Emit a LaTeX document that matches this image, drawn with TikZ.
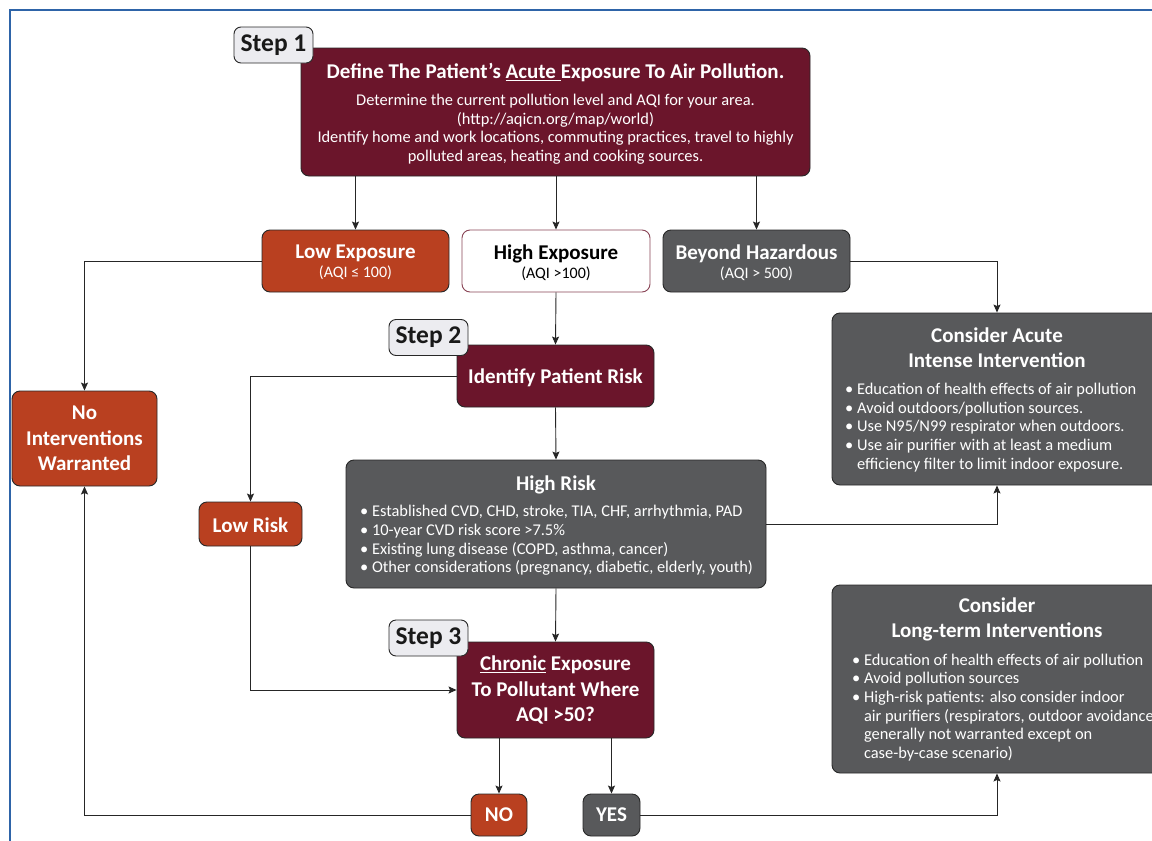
\documentclass[tikz,border=0pt]{standalone}
\usepackage{fontspec}
\setmainfont{Carlito}
\usetikzlibrary{arrows.meta}
\definecolor{maroon}{RGB}{107,21,43}
\definecolor{rust}{RGB}{185,64,32}
\definecolor{slate}{RGB}{88,89,91}
\definecolor{steplbl}{RGB}{236,236,240}
\definecolor{frameblue}{RGB}{46,100,168}
\definecolor{edge}{RGB}{40,40,40}
\begin{document}
\begin{tikzpicture}[x=1pt,y=-1pt,
  box/.style={draw=edge, line width=0.9pt, rounded corners=8pt, inner sep=0pt, align=center, text=white, font=\bfseries\fontsize{21}{25.5}\selectfont},
  mbox/.style={box, fill=maroon},
  rbox/.style={box, fill=rust},
  gbox/.style={box, fill=slate},
  steplabel/.style={draw=edge, line width=0.9pt, fill=steplbl, rounded corners=7pt, inner sep=0pt, minimum width=79, minimum height=36, font=\bfseries\fontsize{25.5}{28}\selectfont, text=black!90},
  exptext/.style={font=\bfseries\fontsize{21}{19}\selectfont},
  title/.style={text=white, font=\bfseries\fontsize{21}{25}\selectfont, align=center, inner sep=0pt},
  body/.style={text=white, font=\fontsize{16.4}{18.7}\selectfont, align=left, inner sep=0pt},
  arr/.style={-{Stealth[length=8pt,width=7pt,inset=1.5pt]}, line width=0.9pt, draw=black!85}]
\useasboundingbox (0,0) rectangle (1152,841);
\clip (0,0) rectangle (1152,841);
\fill[white] (0,0) rectangle (1152,841);
\draw[frameblue, line width=2pt] (10,850) -- (10,10) -- (1160,10);

% Step 1
\node[mbox, minimum width=509, minimum height=128] (main1) at (555.5,112) {};
\node[text=white, align=center, inner sep=0pt, font=\fontsize{16.4}{18.7}\selectfont] (main1text) at (555.5,114)
  {{\bfseries\fontsize{21}{22}\selectfont Define The Patient’s \underline{Acute\ }Exposure To Air Pollution.}\\[8pt]
   Determine the current pollution level and AQI for your area.\\
   (http://aqicn.org/map/world)\\
   Identify home and work locations, commuting practices, travel to highly\\
   polluted areas, heating and cooking sources.};
\node[steplabel] (step1) at (273.5,45) {Step 1};

% exposure boxes
\node[rbox, minimum width=187, minimum height=62, exptext] (lowexp) at (355.5,261) {};
\node[text=white, align=center, inner sep=0pt, exptext] (lowexptext) at (355.5,262.5)
  {Low Exposure\\{\mdseries\fontsize{16}{19}\selectfont (AQI ≤ 100)}};
\node[box, fill=white, draw=maroon!80, minimum width=188, minimum height=62] (highexp) at (556,261) {};
\node[text=black, align=center, inner sep=0pt, exptext] (highexptext) at (556,262.5)
  {High Exposure\\{\mdseries\fontsize{16}{19}\selectfont (AQI >100)}};
\node[gbox, minimum width=187, minimum height=62] (beyond) at (756.5,261) {};
\node[text=white, align=center, inner sep=0pt, exptext] (beyondtext) at (756.5,262.5)
  {Beyond Hazardous\\{\mdseries\fontsize{16}{19}\selectfont (AQI > 500)}};

% Consider acute
\node[gbox, minimum width=330, minimum height=172] (acute) at (997,399) {};
\node[title] (acutetitle) at (997,348) {Consider Acute\\Intense Intervention};
\node[body, anchor=west] (acutelist) at (845,427.5)
  {• Education of health effects of air pollution\\
   • Avoid outdoors/pollution sources.\\
   • Use N95/N99 respirator when outdoors.\\
   • Use air purifier with at least a medium\\
   \phantom{• }efficiency filter to limit indoor exposure.};

% Step 2
\node[mbox, minimum width=197, minimum height=62] (identify) at (555.5,376) {};
\node[title] (identifytext) at (555.5,377.5) {Identify Patient Risk};
\node[steplabel] (step2) at (428.5,337.5) {Step 2};

\node[rbox, minimum width=145, minimum height=95] (noint) at (84.5,438.5) {No\\Interventions\\Warranted};
\node[rbox, minimum width=103, minimum height=44] (lowrisk) at (250.5,524) {};
\node[title] (lowrisktext) at (250.5,525) {Low Risk};

% High risk
\node[gbox, minimum width=420, minimum height=128] (highrisk) at (556,524) {};
\node[title] (hrtitle) at (556,484.5) {High Risk};
\node[body, anchor=west] (hrlist) at (360,540.5)
  {• Established CVD, CHD, stroke, TIA, CHF, arrhythmia, PAD\\
   • 10-year CVD risk score >7.5\%\\
   • Existing lung disease (COPD, asthma, cancer)\\
   • Other considerations (pregnancy, diabetic, elderly, youth)};

% Long-term
\node[gbox, minimum width=330, minimum height=188] (longterm) at (997,679) {};
\node[title] (lttitle) at (997,619.5) {Consider\\Long-term Interventions};
\node[body, anchor=west] (ltlist) at (852,707.5)
  {• Education of health effects of air pollution\\
   • Avoid pollution sources\\
   • High-risk patients: also consider indoor\\
   \phantom{• }air purifiers (respirators, outdoor avoidance\\
   \phantom{• }generally not warranted except on\\
   \phantom{• }case-by-case scenario)};

% Step 3
\node[mbox, minimum width=197, minimum height=96] (chronic) at (555.5,690) {\underline{Chronic} Exposure\\To Pollutant Where\\AQI >50?};
\node[steplabel] (step3) at (428.5,638) {Step 3};

\node[rbox, minimum width=56, minimum height=42] (no) at (499,815) {NO};
\node[gbox, minimum width=57, minimum height=42] (yes) at (611.5,815) {YES};

% connectors
\draw[arr] (lowexp.north |- main1.south) -- (lowexp.north);
\draw[arr] (highexp.north |- main1.south) -- (highexp.north);
\draw[arr] (beyond.north |- main1.south) -- (beyond.north);
\draw[arr] (lowexp.west) -| (noint.north);
\draw[arr] (beyond.east) -| (acute.north);
\draw[arr] (highexp.south) -- (identify.north);
\draw[arr] (identify.west) -| (lowrisk.north);
\draw[arr] (identify.south) -- (highrisk.north);
\draw[arr] (highrisk.east) -| (acute.south);
\draw[arr] (highrisk.south) -- (chronic.north);
\draw[arr] (lowrisk.south) |- (chronic.west);
\draw[arr] (chronic.south -| no.north) -- (no.north);
\draw[arr] (chronic.south -| yes.north) -- (yes.north);
\draw[arr] (no.west) -| (noint.south);
\draw[arr] (yes.east) -| (longterm.south);
\end{tikzpicture}
\end{document}
